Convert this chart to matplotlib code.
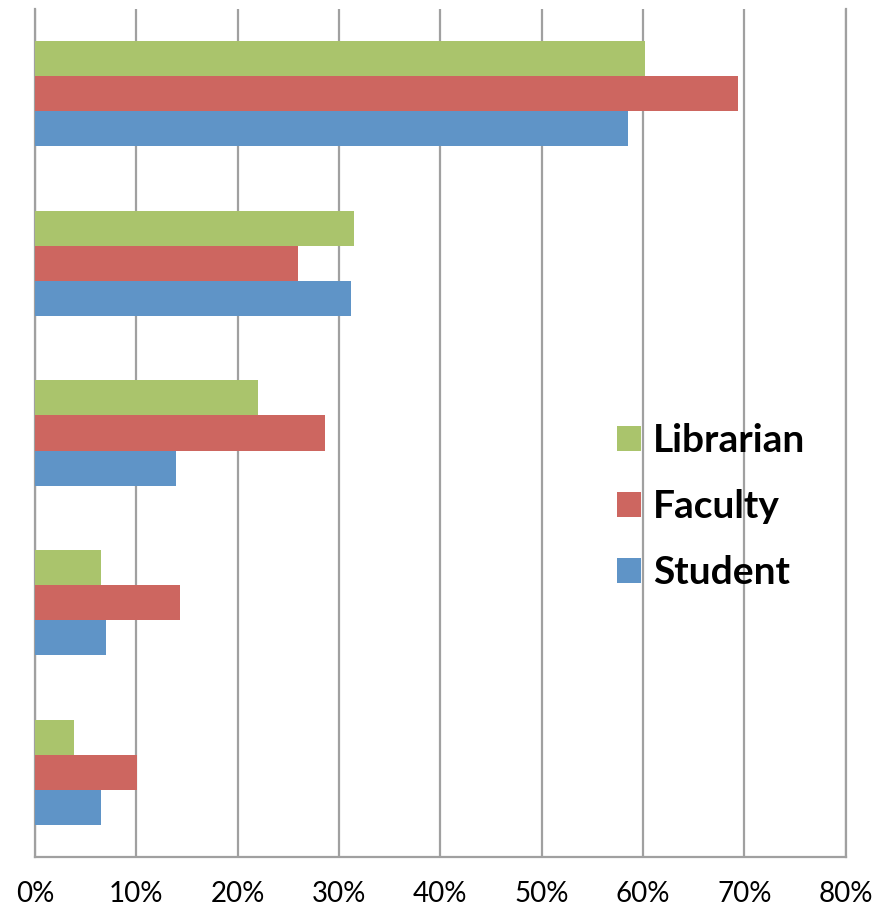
import numpy as np
import matplotlib
matplotlib.use("Agg")
import matplotlib.pyplot as plt
from matplotlib.ticker import FuncFormatter

# Groups from bottom to top (no category labels shown in the chart)
groups = [1, 2, 3, 4, 5]
series = ["Librarian", "Faculty", "Student"]
librarian = [3.8, 6.5, 22.0, 31.5, 60.2]
faculty = [10.1, 14.3, 28.6, 26.0, 69.4]
student = [6.5, 7.0, 13.9, 31.2, 58.5]
x_ticks = [0, 10, 20, 30, 40, 50, 60, 70, 80]

colors = {"Librarian": "#AAC46C", "Faculty": "#CD6660", "Student": "#5F94C7"}
values = {"Librarian": librarian, "Faculty": faculty, "Student": student}

plt.rcParams["font.family"] = ["Lato", "DejaVu Sans"]

fig = plt.figure(figsize=(8.86, 9.14), dpi=100)
ax = fig.add_axes([35 / 886, 57 / 914, 810.7 / 886, 848 / 914])

y = np.arange(len(groups))
h = 0.207
offsets = {"Librarian": h, "Faculty": 0.0, "Student": -h}
for name in series:
    ax.barh(y + offsets[name], values[name], height=h, color=colors[name],
            label=name, linewidth=0, zorder=3)

ax.set_xlim(0, 80)
ax.set_ylim(-0.5, len(groups) - 0.5)
ax.set_xticks(x_ticks)
ax.xaxis.set_major_formatter(FuncFormatter(lambda v, p: f"{v:.0f}%"))
ax.set_yticks([])
ax.tick_params(axis="x", length=0, pad=17, labelsize=20)

grid_c = "#A0A0A0"
ax.xaxis.grid(True, color=grid_c, linewidth=1.6, zorder=0)
ax.set_axisbelow(True)
for s in ["left", "bottom", "right"]:
    ax.spines[s].set_color(grid_c)
    ax.spines[s].set_linewidth(1.6)
ax.spines["top"].set_visible(False)

leg = ax.legend(loc="upper left", bbox_to_anchor=(617 / 886, 1 - 423 / 914),
                bbox_transform=fig.transFigure, frameon=False,
                prop={"weight": "bold", "size": 28},
                handlelength=0.62, handleheight=0.62, handletextpad=0.31,
                labelspacing=0.8, borderpad=0, borderaxespad=0)

fig.savefig("out.png", dpi=100)
